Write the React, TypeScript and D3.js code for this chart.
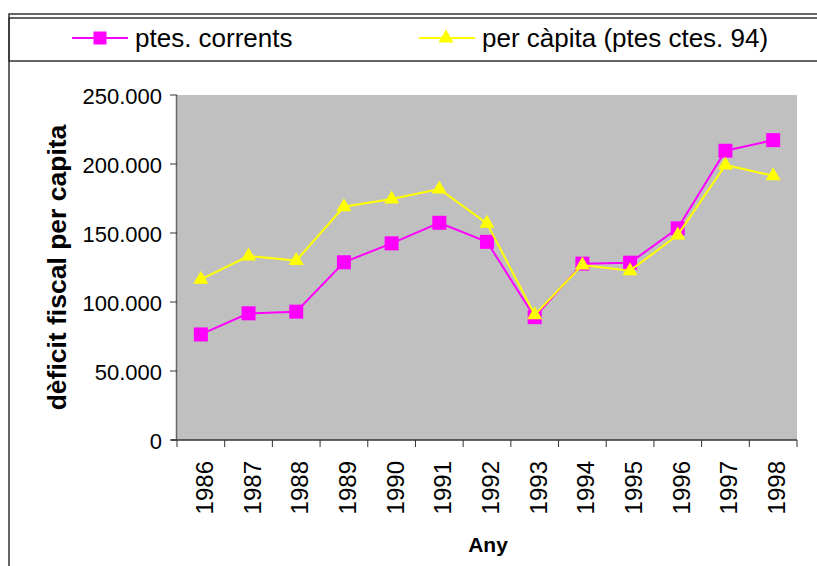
import React from "react";
import * as d3 from "d3";

const years = ["1986","1987","1988","1989","1990","1991","1992","1993","1994","1995","1996","1997","1998"];
const ptesCorrents = [76500, 91800, 93000, 128800, 142500, 157400, 143600, 89000, 127800, 128500, 153400, 209600, 217300];
const perCapita94 = [116400, 133300, 130000, 169000, 174600, 181900, 157000, 90800, 126800, 122700, 148600, 199300, 191500];
const yTicks = [0, 50000, 100000, 150000, 200000, 250000];
const seriesNames = ["ptes. corrents", "per càpita (ptes ctes. 94)"];
const yTitle = "dèficit fiscal per capita";
const xTitle = "Any";

const W = 817, H = 566;
const plot = { left: 177, right: 797, top: 95, bottom: 440 };
const FONT = "'Liberation Sans', Arial, sans-serif";
const TRI = "M0,-8.5L7.5,4.5L-7.5,4.5Z";

export default function App() {
  const x = d3.scaleBand().domain(years).range([plot.left, plot.right]).padding(0);
  const y = d3.scaleLinear().domain([0, 250000]).range([plot.bottom, plot.top]);
  const fmt = (v: number) => (v === 0 ? "0" : d3.format(",")(v).replace(/,/g, "."));
  const cx = (i: number) => x(years[i])! + x.bandwidth() / 2;
  const line = d3.line<number>().x((_, i) => cx(i)).y((d) => y(d));

  return (
    <svg width={W} height={H} style={{ position: "absolute", left: 0, top: 0 }}>
      <rect x={0} y={0} width={W} height={H} fill="#fff" />
      {/* outer frame */}
      <rect x={9} y={14} width={W + 20} height={H + 20} fill="none" stroke="#333" strokeWidth={1.5} />
      {/* legend box */}
      <rect x={9} y={18} width={W + 20} height={43} fill="none" stroke="#333" strokeWidth={1.5} />
      {/* legend entries */}
      <g>
        <line x1={72} x2={128} y1={38} y2={38} stroke="#FF00FF" strokeWidth={2} />
        <rect x={100 - 6.5} y={38 - 6.5} width={13} height={13} fill="#FF00FF" />
        <text x={135} y={47} fontFamily={FONT} fontSize={26} fill="#000">{seriesNames[0]}</text>
        <line x1={419} x2={475} y1={38} y2={38} stroke="#FFFF00" strokeWidth={2} />
        <path d={TRI} transform={`translate(446,38)`} fill="#FFFF00" />
        <text x={482} y={47} fontFamily={FONT} fontSize={26} fill="#000">{seriesNames[1]}</text>
      </g>
      {/* plot area */}
      <rect x={plot.left} y={plot.top} width={plot.right - plot.left} height={plot.bottom - plot.top} fill="#C0C0C0" />
      {/* y axis */}
      <line x1={plot.left - 0.5} x2={plot.left - 0.5} y1={plot.top} y2={plot.bottom} stroke="#666" strokeWidth={1.5} />
      {yTicks.map((t) => (
        <g key={t}>
          <line x1={170} x2={plot.left} y1={y(t)} y2={y(t)} stroke="#333" strokeWidth={1} />
          <text x={162} y={y(t)} dy="0.4em" textAnchor="end" fontFamily={FONT} fontSize={22} fill="#000">{fmt(t)}</text>
        </g>
      ))}
      {/* x axis */}
      <line x1={plot.left - 6} x2={plot.right} y1={plot.bottom} y2={plot.bottom} stroke="#333" strokeWidth={1.5} />
      {years.map((yr) => (
        <line key={"t" + yr} x1={x(yr)!} x2={x(yr)!} y1={plot.bottom} y2={plot.bottom + 7} stroke="#333" strokeWidth={1} />
      ))}
      <line x1={plot.right} x2={plot.right} y1={plot.bottom} y2={plot.bottom + 7} stroke="#333" strokeWidth={1} />
      {years.map((yr, i) => (
        <text key={"l" + yr} transform={`translate(${cx(i) + 12},${461}) rotate(-90)`} textAnchor="end" fontFamily={FONT} fontSize={24} fill="#000">{yr}</text>
      ))}
      {/* titles */}
      <text transform={`translate(66,${(plot.top + plot.bottom) / 2}) rotate(-90)`} textAnchor="middle" fontFamily={FONT} fontWeight="bold" fontSize={26.5} fill="#000">{yTitle}</text>
      <text x={488} y={552} textAnchor="middle" fontFamily={FONT} fontWeight="bold" fontSize={21} fill="#000">{xTitle}</text>
      {/* series */}
      <path d={line(ptesCorrents)!} fill="none" stroke="#FF00FF" strokeWidth={2} />
      {ptesCorrents.map((v, i) => (
        <rect key={"s" + i} x={cx(i) - 7} y={y(v) - 7} width={14} height={14} fill="#FF00FF" />
      ))}
      <path d={line(perCapita94)!} fill="none" stroke="#FFFF00" strokeWidth={2} />
      {perCapita94.map((v, i) => (
        <path key={"p" + i} d={TRI} transform={`translate(${cx(i)},${y(v)})`} fill="#FFFF00" />
      ))}
    </svg>
  );
}
